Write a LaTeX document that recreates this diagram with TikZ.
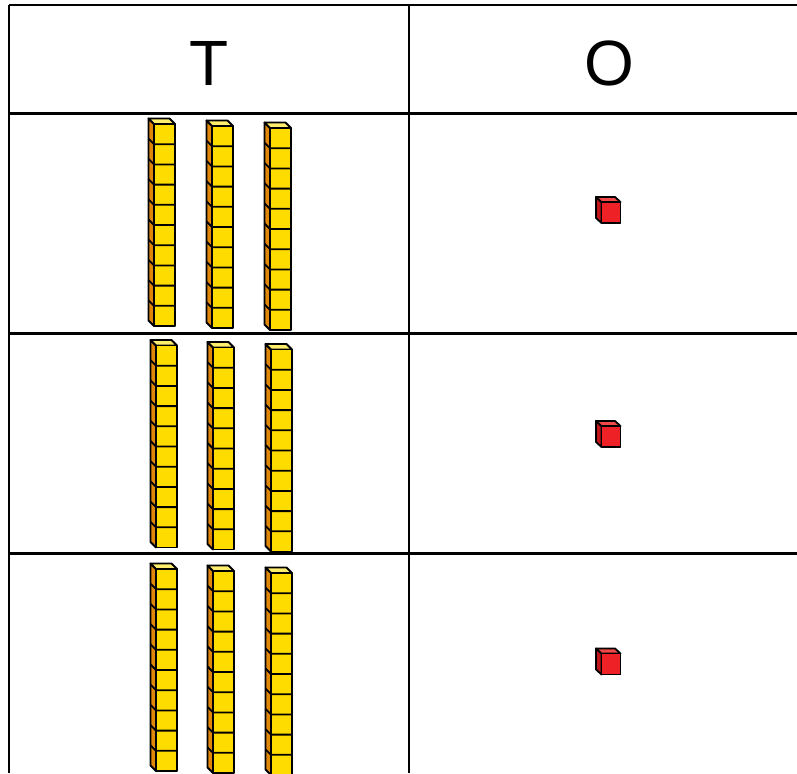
\documentclass[tikz,border=0pt]{standalone}
\usepackage{fontspec}
\setmainfont{Liberation Sans}
\definecolor{rodfront}{HTML}{FFDC00}
\definecolor{rodtop}{HTML}{FFEE6E}
\definecolor{rodside}{HTML}{E0870A}
\definecolor{cubefront}{HTML}{EE2126}
\definecolor{cubetop}{HTML}{F24848}
\definecolor{cubeside}{HTML}{C0161B}
\tikzset{
  grid line/.style={line width=2.5pt, draw=black},
  block edge/.style={line width=1.8pt, draw=black, line join=round},
  header/.style={font=\fontsize{64}{64}\selectfont, inner sep=0pt}
}
\newcommand\tenrod[2]{%
  \begin{scope}[shift={(#1,#2)}]
    \filldraw[block edge, fill=rodside] (0,0) -- (-5.5,-5.5) -- (-5.5,196.5) -- (0,202) -- cycle;
    \filldraw[block edge, fill=rodtop] (0,0) -- (21,0) -- (15.5,-5.5) -- (-5.5,-5.5) -- cycle;
    \filldraw[block edge, fill=rodfront] (0,0) rectangle (21,202);
    \foreach \k in {1,...,9} {
      \draw[block edge] (-5.5,{\k*20.2-5.5}) -- (0,{\k*20.2}) -- (21,{\k*20.2});
    }
  \end{scope}}
\newcommand\unitcube[2]{%
  \begin{scope}[shift={(#1,#2)}]
    \filldraw[block edge, fill=cubeside] (0,0) -- (-5.5,-5) -- (-5.5,16) -- (0,21) -- cycle;
    \filldraw[block edge, fill=cubetop] (0,0) -- (19,0) -- (13.5,-5) -- (-5.5,-5) -- cycle;
    \filldraw[block edge, fill=cubefront] (0,0) rectangle (19,21);
  \end{scope}}
\begin{document}
\begin{tikzpicture}[x=1pt, y=-1pt]
  \clip (0,0) rectangle (797,773);
  \fill[white] (0,0) rectangle (797,773);
  % table
  \foreach \yy in {5,113.5,333.5,553.5} {
    \draw[grid line] (9,\yy) -- (797,\yy);
  }
  \draw[grid line] (9,5) -- (9,773);
  \draw[grid line] (409,5) -- (409,773);
  % headers
  \node[header] (T) at (209,63) {T};
  \node[header] (O) at (609,63) {O};
  % row 1
  \tenrod{154}{124}
  \tenrod{212}{126}
  \tenrod{270}{128}
  \unitcube{601.5}{202}
  % row 2
  \tenrod{156}{345.5}
  \tenrod{213}{347.5}
  \tenrod{271}{349.5}
  \unitcube{601.5}{426}
  % row 3
  \tenrod{156}{569}
  \tenrod{213}{571}
  \tenrod{271}{573}
  \unitcube{601.5}{653.5}
\end{tikzpicture}
\end{document}
